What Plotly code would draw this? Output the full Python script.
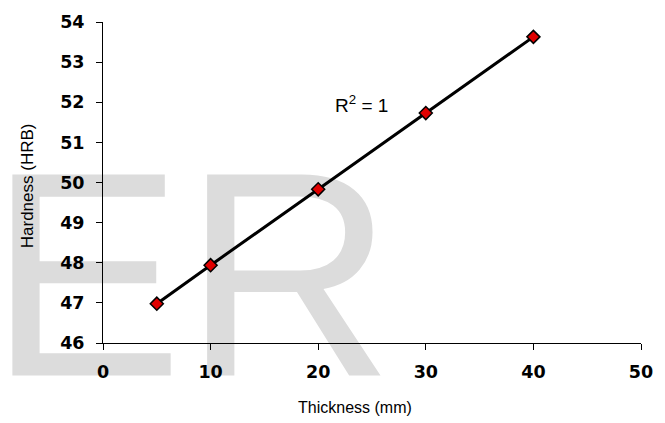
import plotly.graph_objects as go

thickness = [5, 10, 20, 30, 40]
hardness = [46.98, 47.94, 49.83, 51.73, 53.63]
x_ticks = [0, 10, 20, 30, 40, 50]
y_ticks = [46, 47, 48, 49, 50, 51, 52, 53, 54]
watermark = "ER"
r2_label = "R<sup>2</sup> = 1"
x_title = "Thickness (mm)"
y_title = "Hardness (HRB)"

fig = go.Figure()

# watermark (drawn first so it sits below the data)
fig.add_trace(go.Scatter(
    x=[8.2], y=[47.01], mode="text", text=[watermark],
    textposition="middle center",
    textfont=dict(family="Liberation Sans, Arial", size=292, color="#dcdcdc"),
    cliponaxis=False, hoverinfo="skip", showlegend=False,
))

fig.add_trace(go.Scatter(
    x=thickness, y=hardness, mode="lines+markers",
    line=dict(color="black", width=3),
    marker=dict(symbol="diamond", size=10, color="#e00000",
                line=dict(color="black", width=1.5)),
    showlegend=False, cliponaxis=False,
))

axis_font = dict(family="DejaVu Sans, Verdana", size=17.5, color="black", weight="bold")

fig.update_xaxes(
    range=[0, 50], tickvals=x_ticks, ticktext=[str(v) for v in x_ticks],
    showgrid=False, zeroline=False, showline=True, linecolor="black", linewidth=1,
    ticks="outside", ticklen=6, tickcolor="black", tickwidth=1,
    tickfont=axis_font, ticklabelstandoff=7,
)
fig.update_yaxes(
    range=[46, 54], tickvals=y_ticks, ticktext=[str(v) for v in y_ticks],
    showgrid=False, zeroline=False, showline=True, linecolor="black", linewidth=1,
    ticks="outside", ticklen=6, tickcolor="black", tickwidth=1,
    tickfont=axis_font, ticklabelstandoff=8,
)

fig.update_layout(
    width=665, height=423,
    margin=dict(l=103, r=22, t=18, b=80),
    plot_bgcolor="white", paper_bgcolor="white",
    annotations=[
        dict(text=r2_label, x=21.4, y=51.95, xref="x", yref="y",
             xanchor="left", yanchor="middle", showarrow=False,
             font=dict(family="Liberation Sans, Arial", size=19, color="black")),
        dict(text=x_title, x=(356 - 103) / 540, y=-0.2, xref="paper", yref="paper",
             xanchor="center", yanchor="middle", showarrow=False,
             font=dict(family="Liberation Sans, Arial", size=16, color="black")),
        dict(text=y_title, x=(28 - 103) / 540, y=(343 - 184) / 325, xref="paper", yref="paper",
             xanchor="center", yanchor="middle", showarrow=False, textangle=-90,
             font=dict(family="Liberation Sans, Arial", size=17, color="black")),
    ],
)

fig.write_html("out.html", config={"displayModeBar": False},
               post_script="document.body.style.margin='0';document.body.style.padding='0';")
